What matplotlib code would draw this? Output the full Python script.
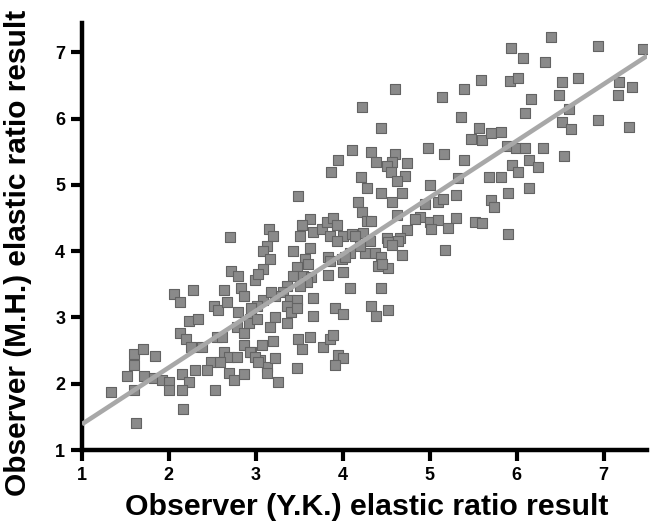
import numpy as np
import matplotlib
matplotlib.use("Agg")
import matplotlib.pyplot as plt

# Observer (Y.K.) values
x_vals = [
    6.39, 5.94, 6.07, 6.33, 6.93, 7.45, 5.59, 5.39, 5.92, 6.02, 6.52, 6.71, 7.18, 7.33, 7.17, 6.49, 6.17,
    4.60, 5.14, 4.22, 6.09, 5.36, 6.60, 6.52, 6.63, 6.93, 7.29, 4.44, 5.57, 5.48, 5.60, 5.71, 5.82, 5.89,
    5.99, 6.10, 6.30, 6.54, 4.98, 5.16, 5.39, 5.95, 6.01, 6.14, 6.24, 4.32, 4.38, 4.60, 4.57, 4.51, 4.74,
    4.56, 4.72, 4.62, 4.21, 4.28, 5.32, 5.68, 5.82, 5.00, 4.44, 4.68, 4.57, 4.18, 5.90, 6.14, 5.30, 4.94,
    5.09, 5.15, 5.70, 5.74, 4.62, 4.89, 5.00, 5.10, 5.30, 5.52, 5.60, 4.22, 4.28, 4.32, 4.74, 5.02, 5.21,
    5.90, 4.23, 4.51, 4.66, 4.31, 4.52, 4.64, 4.57, 4.25, 4.37, 4.44, 4.68, 5.18, 4.40, 4.52, 4.44, 4.32,
    4.38, 4.52, 4.83,
    4.11, 3.94, 3.87, 3.49, 3.62, 3.53, 3.51, 3.15, 3.20, 3.66, 3.76, 3.82, 3.89, 3.93, 3.85, 4.00, 3.93,
    4.11, 4.14, 4.20, 4.08, 4.45, 2.70, 3.13, 3.08, 3.16, 3.08, 2.99, 3.03, 2.71, 2.79, 3.43, 3.62, 3.56,
    3.60, 3.47, 3.83, 3.85, 3.99, 4.02, 3.83, 4.00, 4.08, 3.66, 3.66, 3.91, 4.00, 3.43, 3.54, 3.64, 3.59,
    3.51, 3.36, 3.31, 3.22, 3.08, 3.01, 2.95, 3.39, 3.47, 3.36, 3.41, 3.47, 3.22, 3.36, 3.16, 3.07, 3.20,
    2.95, 3.05, 3.13, 3.22, 3.13, 3.48, 3.62, 3.53, 3.77, 3.85, 3.89, 3.94, 4.00, 3.91, 3.47, 3.26, 3.18,
    2.28, 2.63, 2.83, 2.87, 2.06, 2.13, 2.52, 2.57, 2.67, 2.80, 2.95, 2.93, 2.23, 2.34, 2.13, 2.20, 2.26,
    2.38, 2.55, 2.61, 2.78, 2.87, 2.92, 2.87, 2.93, 2.99, 3.03, 2.64, 2.69, 2.78, 2.49, 2.59, 2.44, 2.30,
    2.69, 2.75, 2.87, 2.15, 2.23, 2.15, 2.53, 2.16, 1.60, 1.70, 1.84, 1.60, 1.52, 1.71, 1.83, 1.92, 2.00,
    2.00, 1.60, 1.33, 1.62, 3.01,
]
# Observer (M.H.) values
y_vals = [
    7.23, 7.06, 6.91, 6.85, 7.09, 7.05, 6.59, 6.45, 6.57, 6.62, 6.56, 6.62, 6.56, 6.48, 6.36, 6.36, 6.29,
    6.45, 6.32, 6.18, 6.09, 6.02, 6.14, 5.95, 5.85, 5.98, 5.88, 5.86, 5.86, 5.70, 5.68, 5.79, 5.80, 5.59,
    5.55, 5.56, 5.56, 5.44, 5.56, 5.47, 5.38, 5.30, 5.20, 5.38, 5.27, 5.50, 5.35, 5.47, 5.35, 5.29, 5.33,
    5.20, 5.14, 5.06, 5.12, 4.95, 5.11, 5.12, 5.12, 5.00, 4.88, 4.88, 4.74, 4.74, 4.88, 4.95, 4.85, 4.71,
    4.74, 4.79, 4.77, 4.67, 4.55, 4.52, 4.44, 4.47, 4.50, 4.44, 4.42, 4.59, 4.45, 4.45, 4.32, 4.33, 4.35,
    4.26, 4.27, 4.20, 4.20, 4.15, 4.14, 4.15, 4.09, 3.98, 3.98, 3.92, 3.94, 4.02, 3.77, 3.74, 3.44, 3.17,
    3.02, 3.11, 4.48,
    5.53, 5.38, 5.20, 4.83, 4.48, 4.39, 4.23, 4.33, 4.23, 4.29, 4.33, 4.44, 4.50, 4.39, 4.23, 4.23, 4.15,
    4.26, 4.23, 4.08, 3.98, 3.80, 4.21, 4.08, 4.00, 3.88, 3.73, 3.56, 3.65, 3.70, 3.62, 4.00, 4.05, 3.88,
    3.80, 3.76, 3.92, 3.85, 3.88, 3.92, 3.64, 3.68, 3.44, 3.29, 3.03, 3.15, 3.06, 3.62, 3.62, 3.61, 3.53,
    3.47, 3.47, 3.38, 3.32, 3.27, 3.17, 3.09, 3.27, 3.27, 3.17, 3.09, 3.15, 3.00, 2.92, 2.85, 2.59, 2.64,
    2.48, 2.36, 2.26, 2.39, 2.17, 2.67, 2.71, 2.52, 2.56, 2.67, 2.74, 2.44, 2.39, 2.29, 2.24, 2.02, 3.39,
    3.42, 3.42, 3.44, 3.32, 3.35, 3.23, 3.17, 3.11, 3.24, 3.09, 3.14, 2.97, 2.94, 2.98, 2.77, 2.67, 2.55,
    2.56, 2.70, 2.71, 2.86, 2.77, 2.92, 2.59, 2.48, 2.41, 2.33, 2.48, 2.41, 2.41, 2.33, 2.33, 2.21, 2.21,
    2.17, 2.06, 2.14, 2.14, 2.02, 1.91, 1.91, 1.62, 2.45, 2.53, 2.42, 2.29, 2.11, 2.11, 2.09, 2.06, 2.02,
    1.91, 1.91, 1.88, 1.41, 2.97,
]

x_ticks = [1, 2, 3, 4, 5, 6, 7]
y_ticks = [1, 2, 3, 4, 5, 6, 7]
x_limits = [1, 7.5]
y_limits = [1, 7.44]
fit_slope = 0.855
fit_intercept = 0.535

plt.rcParams['font.family'] = ['Liberation Sans', 'DejaVu Sans']

fig = plt.figure(figsize=(6.55, 5.27), dpi=100)
ax = fig.add_axes([0.125, 0.146, 0.863, 0.810])

n = min(len(x_vals), len(y_vals))
xs = np.array(x_vals[:n])
ys = np.array(y_vals[:n])

ax.scatter(xs, ys, marker='s', s=62, c='#8a8a8a', edgecolors='#636363',
           linewidths=0.8, zorder=2)

fx = np.array(x_limits)
ax.plot(fx, fit_intercept + fit_slope * fx, color='#a8a8a8', lw=3.3,
        solid_capstyle='butt', zorder=3)

ax.set_xlim(*x_limits)
ax.set_ylim(*y_limits)
ax.set_xticks(x_ticks)
ax.set_yticks(y_ticks)
for s in ['top', 'right']:
    ax.spines[s].set_visible(False)
for s in ['left', 'bottom']:
    ax.spines[s].set_linewidth(3.2)
    ax.spines[s].set_color('black')
ax.tick_params(axis='both', direction='out', length=8, width=3,
               labelsize=13, pad=4)
for lab in ax.get_xticklabels() + ax.get_yticklabels():
    lab.set_fontweight('bold')

ax.set_xlabel('Observer (Y.K.) elastic ratio result', fontsize=21.8,
              fontweight='bold')
ax.set_ylabel('Observer (M.H.) elastic ratio result', fontsize=21.5,
              fontweight='bold')
ax.xaxis.label.set_va('center')
ax.yaxis.label.set_va('center')
ax.xaxis.set_label_coords(0.503, -0.133)
ax.yaxis.set_label_coords(-0.113, 0.462)

fig.savefig('out.png', dpi=100)
